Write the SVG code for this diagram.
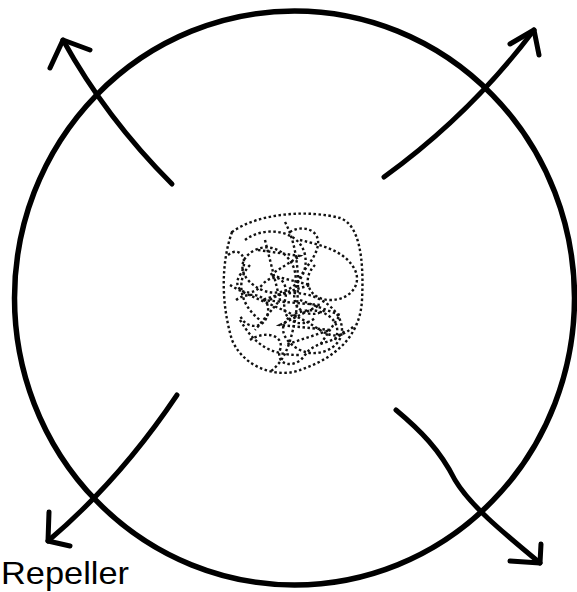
<svg xmlns="http://www.w3.org/2000/svg" width="577" height="592" viewBox="0 0 577 592">
<style>
.s{fill:none;stroke:#000;stroke-width:5;stroke-linecap:round;stroke-linejoin:round}
.c{fill:none;stroke:#000;stroke-width:5.5}
.d{fill:none;stroke:#111;stroke-width:2.4;stroke-dasharray:2.5 2.5;stroke-linecap:butt}
.t{font-family:"Liberation Sans",Arial,sans-serif;font-size:32px;fill:#000}
</style>
<rect width="577" height="592" fill="#fff"/>
<g id="circle">
<ellipse class="c" cx="294.5" cy="298" rx="280" ry="287"/>
</g>
<g id="repeller-core">
<path class="d" d="M232 232 C222 260 220 300 232 340 C245 370 280 378 300 370 C330 360 360 340 362 300 C364 260 360 225 340 218 C310 210 260 212 232 232 Z"/>
<path class="d" d="M245 240 C265 225 300 230 305 255 C310 280 285 300 262 290 C240 280 235 260 255 250 C275 240 300 260 295 285"/>
<path class="d" d="M270 300 C290 285 330 295 340 320 C350 345 320 360 300 350 C280 340 275 320 300 312 C320 305 345 320 335 340"/>
<path class="d" d="M285 222 C300 250 300 290 295 320 C290 345 285 360 270 372"/>
<path class="d" d="M230 285 C255 300 290 310 320 330 C335 340 345 335 355 325"/>
<path class="d" d="M300 240 C320 245 345 250 355 270 C362 285 350 300 330 300 C310 300 300 280 315 265"/>
<path class="d" d="M240 320 C255 345 270 355 300 355 M250 265 C235 280 240 305 260 320"/>
<path class="d" d="M258 250 L300 256 L270 275 L310 285 L262 300 L320 305 L280 325 L330 330 L285 345"/>
<path class="d" d="M228 255 C240 245 250 260 240 275 C230 290 250 300 262 285 C275 270 290 280 285 300 C280 320 300 330 315 318"/>
<path class="d" d="M290 232 C300 225 320 228 318 245 C315 262 300 270 295 290 C290 310 310 320 325 310"/>
<path class="d" d="M250 340 C265 330 285 335 280 350 C275 365 295 370 305 355 C315 340 335 345 345 330"/>
<path class="d" d="M265 240 L280 300 L255 330 M300 300 L340 315 L320 345"/>
<path class="d" d="M236 300 C250 290 270 295 268 312 C266 330 245 330 240 315"/>
</g>
<g id="connectors">
<g id="arrow-tl">
<path class="s" d="M172 184 Q106 118 63 40"/>
<path class="s" d="M50 68 L63 40 L90 50"/>
</g>
<g id="arrow-tr">
<path class="s" d="M384 177 Q470 115 534 30"/>
<path class="s" d="M510 44 L534 30 L539 55"/>
</g>
<g id="arrow-bl">
<path class="s" d="M177 395 Q120 480 48 541"/>
<path class="s" d="M49 512 L48 541 L70 546"/>
</g>
<g id="arrow-br">
<path class="s" d="M396 410 C420 430 440 450 455 480 C470 505 500 530 540 563"/>
<path class="s" d="M510 561 L540 563 L541 544"/>
</g>
</g>
<g id="label">
<text class="t" x="1" y="584" textLength="128" lengthAdjust="spacingAndGlyphs">Repeller</text>
</g>
</svg>
